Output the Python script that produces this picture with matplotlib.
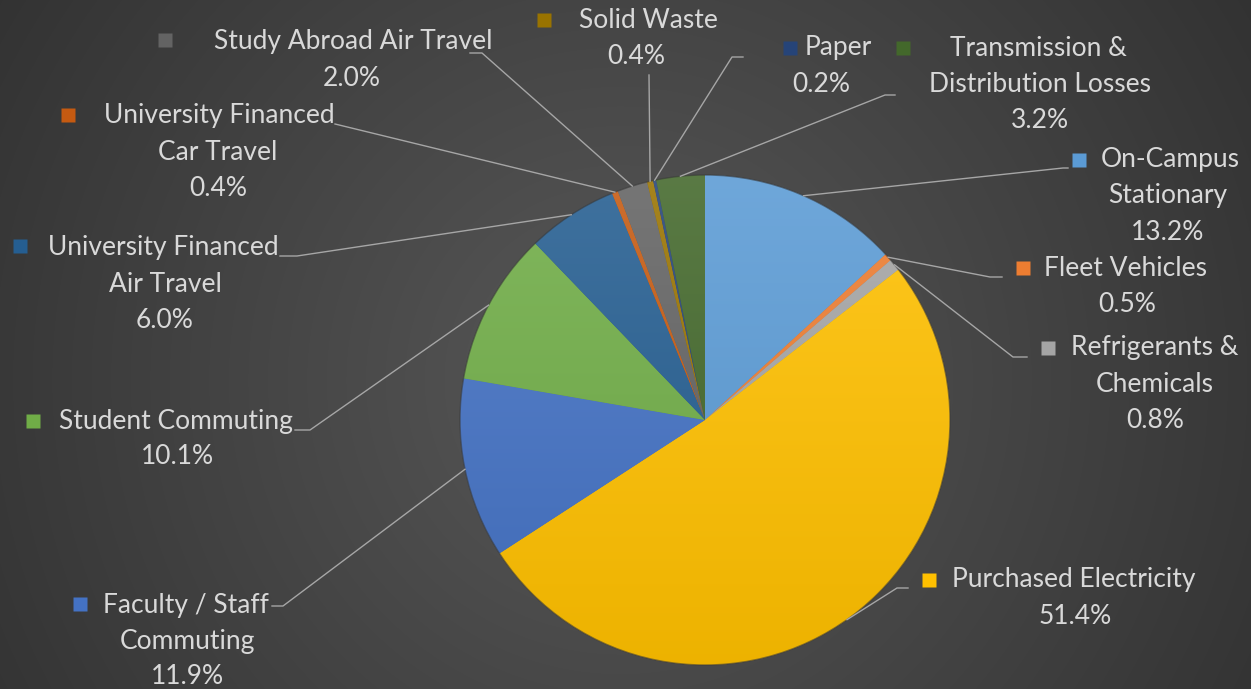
import numpy as np
import matplotlib
matplotlib.use('Agg')
import matplotlib.pyplot as plt
import matplotlib.colors as mcolors

# data
categories = ['On-Campus\nStationary', 'Fleet Vehicles', 'Refrigerants &\nChemicals',
              'Purchased Electricity', 'Faculty / Staff\nCommuting', 'Student Commuting',
              'University Financed\nAir Travel', 'University Financed\nCar Travel',
              'Study Abroad Air Travel', 'Solid Waste', 'Paper',
              'Transmission &\nDistribution Losses']
shares = [13.2, 0.5, 0.8, 51.4, 11.9, 10.1, 6.0, 0.4, 2.0, 0.4, 0.2, 3.2]
colors = ['#5B9BD5', '#ED7D31', '#A5A5A5', '#FFC000', '#4472C4', '#70AD47',
          '#255E91', '#C55A11', '#636363', '#997300', '#264478', '#43682B']

# label layout (pixel coords): marker x, marker y, first line center x, text center x, first line y
label_layout = [(1079, 160, 1170, 1168, 160), (1023, 268, 1126, 1127, 268),
                (1048, 348, 1155, 1155, 348), (929, 580, 1074, 1075, 580),
                (80, 604, 186, 187, 605), (33, 421, 176, 177, 421),
                (20, 246, 163, 165, 248), (68, 115, 219, 218, 116),
                (165, 40, 353, 352, 42), (544, 20, 648, 636, 20),
                (790, 48, 838, 821, 48), (903, 48, 1038, 1040, 48)]
# leader elbow (x, y) and end x
leaders = [(1063, 168, 1068), (990, 277, 1002), (1013, 357, 1027),
           (897, 588, 908), (283, 606, 272), (310, 430, 295),
           (297, 256, 280), (335, 124, 335), (482, 53, 470),
           (649, 75, 649), (732, 57, 743), (885, 95, 895)]

W, H = 1251, 689
cx, cy, R = 705, 420, 245
textcol = '#d9d9d9'
linecol = '#a6a6a6'
line_gap = 36

plt.rcParams['font.family'] = ['Lato', 'DejaVu Sans']

fig = plt.figure(figsize=(W / 100, H / 100), dpi=100)
ax = fig.add_axes([0, 0, 1, 1])

# background radial gradient
yy, xx = np.mgrid[0:H, 0:W]
d = np.sqrt((xx - 620) ** 2 + (yy - 380) ** 2) / 800.0
g = np.clip(0.345 - 0.16 * d, 0.18, 1)
bg = np.dstack([g, g, g])
ax.imshow(bg, extent=(0, W, H, 0), origin='upper', zorder=0, interpolation='bilinear')

wedges, _ = ax.pie(shares, colors=colors, startangle=-90, counterclock=True,
                   center=(cx, cy), radius=R, frame=True,
                   wedgeprops=dict(linewidth=0))

# soft vertical gradient on each slice
t = np.linspace(0, 1, 200)[:, None]
for w, c in zip(wedges, colors):
    w.set_zorder(2)
    rgb = np.array(mcolors.to_rgb(c))
    top = rgb + (1 - rgb) * 0.12
    bot = rgb * 0.93
    img = (top[None, :] * (1 - t) + bot[None, :] * t)[:, None, :]
    im = ax.imshow(img, extent=(cx - R, cx + R, cy + R, cy - R), origin='upper',
                   zorder=3, aspect='auto', interpolation='bilinear')
    im.set_clip_path(w)

ax.add_patch(plt.Circle((cx, cy), R, fill=False, ec='#3a3a3a', lw=1.0, zorder=4, alpha=0.6))

# leader lines and labels
for w, name, val, c, lay, ld in zip(wedges, categories, shares, colors, label_layout, leaders):
    mid = np.deg2rad((w.theta1 + w.theta2) / 2)
    sx, sy = cx + R * np.cos(mid), cy + R * np.sin(mid)
    ex, ey, endx = ld
    ax.plot([sx, ex, endx], [sy, ey, ey], color=linecol, lw=1, zorder=5,
            solid_joinstyle='round')

    mx, my, tx1, tx, ty = lay
    ax.plot([mx], [my], marker='s', ms=10, color=c, mec='none', zorder=6)
    lines = name.split('\n') + ['{:.1f}%'.format(val)]
    for i, s in enumerate(lines):
        ax.text(tx1 if i == 0 else tx, ty + i * line_gap, s, ha='center', va='center',
                color=textcol, fontsize=19, zorder=6)

ax.set_xlim(0, W)
ax.set_ylim(H, 0)
ax.set_aspect('auto')
ax.axis('off')

fig.savefig('out.png', dpi=100)
